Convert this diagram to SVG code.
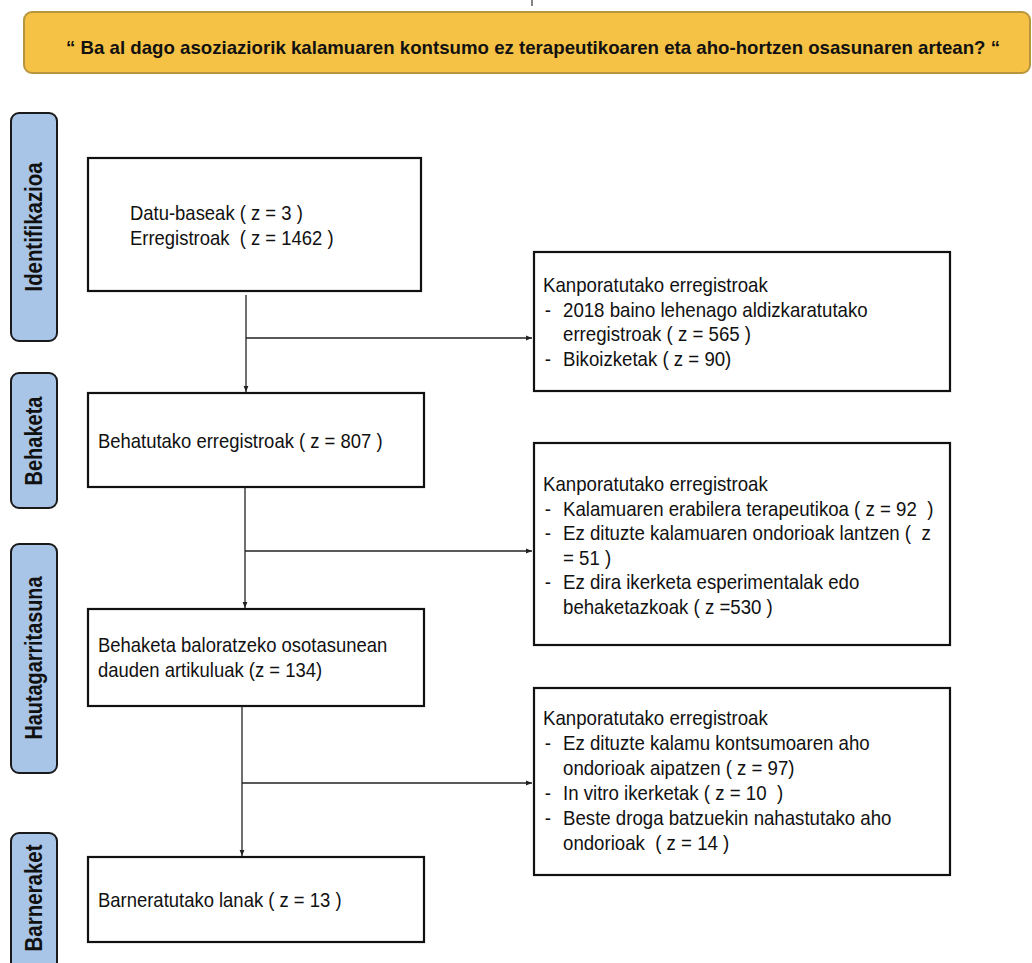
<svg xmlns="http://www.w3.org/2000/svg" width="1032" height="963" viewBox="0 0 1032 963">
<style>
.t{font-family:"Liberation Sans",Arial,sans-serif;font-size:20.5px;fill:#111}
.side rect{fill:#A8C4E6;stroke:#1a1a1a;stroke-width:2}
.side text{font-family:"Liberation Sans",Arial,sans-serif;font-size:23px;font-weight:bold;fill:#111;text-anchor:middle}
.box{fill:#fff;stroke:#111;stroke-width:2.2}
.con path{fill:none;stroke:#222;stroke-width:1.3}
</style>
<defs>
<marker id="arr" viewBox="0 0 10 10" refX="10" refY="5" markerWidth="7" markerHeight="6" orient="auto" markerUnits="userSpaceOnUse">
<path d="M0,1 L10,5 L0,9 z" fill="#222"/>
</marker>
</defs>
<rect width="1032" height="963" fill="#fff"/>
<line x1="532" y1="0" x2="532" y2="6" stroke="#333" stroke-width="1.2"/>

<g id="title">
<rect x="24" y="12" width="1006" height="61" rx="8" fill="#F5C245" stroke="#B8963E" stroke-width="2"/>
<text x="66" y="54" textLength="934" lengthAdjust="spacingAndGlyphs" style="font-family:'Liberation Sans',Arial,sans-serif;font-size:19px;font-weight:bold;fill:#111" xml:space="preserve">“ Ba al dago asoziaziorik kalamuaren kontsumo ez terapeutikoaren eta aho-hortzen osasunaren artean? “</text>
</g>

<g id="side-identifikazioa" class="side">
<rect x="11" y="113" width="46" height="228" rx="8"/>
<text transform="translate(42,227) rotate(-90)" textLength="129" lengthAdjust="spacingAndGlyphs">Identifikazioa</text>
</g>
<g id="side-behaketa" class="side">
<rect x="11" y="373" width="46" height="135" rx="8"/>
<text transform="translate(42,441) rotate(-90)" textLength="89" lengthAdjust="spacingAndGlyphs">Behaketa</text>
</g>
<g id="side-hautagarritasuna" class="side">
<rect x="11" y="544" width="46" height="229" rx="8"/>
<text transform="translate(42,658) rotate(-90)" textLength="163" lengthAdjust="spacingAndGlyphs">Hautagarritasuna</text>
</g>
<g id="side-barneraket" class="side">
<rect x="11" y="833" width="46" height="150" rx="8"/>
<text transform="translate(42,898) rotate(-90)" textLength="107" lengthAdjust="spacingAndGlyphs">Barneraket</text>
</g>

<g id="identification">
<rect class="box" x="88" y="158" width="333" height="133"/>
<g transform="translate(130,220) scale(0.9,1)">
<text class="t" x="0" y="0">Datu-baseak ( z = 3 )</text>
<text class="t" x="0" y="25" xml:space="preserve">Erregistroak  ( z = 1462 )</text>
</g>
</g>

<g id="excluded-1">
<rect class="box" x="534" y="252" width="416" height="139"/>
<g transform="translate(543,292) scale(0.91,1)">
<text class="t" x="0" y="0">Kanporatutako erregistroak</text>
<text class="t" x="2" y="24.6">-</text>
<text class="t" x="22" y="24.6">2018 baino lehenago aldizkaratutako</text>
<text class="t" x="22" y="49.2">erregistroak ( z = 565 )</text>
<text class="t" x="2" y="73.8">-</text>
<text class="t" x="22" y="73.8">Bikoizketak ( z = 90)</text>
</g>
</g>

<g id="screened">
<rect class="box" x="88" y="393" width="336" height="94"/>
<text class="t" transform="translate(98,448) scale(0.9,1)">Behatutako erregistroak ( z = 807 )</text>
</g>

<g id="excluded-2">
<rect class="box" x="534" y="443" width="416" height="202"/>
<g transform="translate(543,491) scale(0.91,1)">
<text class="t" x="0" y="0">Kanporatutako erregistroak</text>
<text class="t" x="2" y="24.6">-</text>
<text class="t" x="22" y="24.6" xml:space="preserve">Kalamuaren erabilera terapeutikoa ( z = 92  )</text>
<text class="t" x="2" y="49.2">-</text>
<text class="t" x="22" y="49.2" xml:space="preserve">Ez dituzte kalamuaren ondorioak lantzen (  z</text>
<text class="t" x="22" y="73.8">= 51 )</text>
<text class="t" x="2" y="98.4">-</text>
<text class="t" x="22" y="98.4">Ez dira ikerketa esperimentalak edo</text>
<text class="t" x="22" y="123">behaketazkoak ( z =530 )</text>
</g>
</g>

<g id="eligibility">
<rect class="box" x="88" y="609" width="336" height="97"/>
<g transform="translate(98,652) scale(0.9,1)">
<text class="t" x="0" y="0">Behaketa baloratzeko osotasunean</text>
<text class="t" x="0" y="25">dauden artikuluak (z = 134)</text>
</g>
</g>

<g id="excluded-3">
<rect class="box" x="534" y="688" width="416" height="187"/>
<g transform="translate(543,725) scale(0.91,1)">
<text class="t" x="0" y="0">Kanporatutako erregistroak</text>
<text class="t" x="2" y="25">-</text>
<text class="t" x="22" y="25">Ez dituzte kalamu kontsumoaren aho</text>
<text class="t" x="22" y="50">ondorioak aipatzen ( z = 97)</text>
<text class="t" x="2" y="75">-</text>
<text class="t" x="22" y="75" xml:space="preserve">In vitro ikerketak ( z = 10  )</text>
<text class="t" x="2" y="100">-</text>
<text class="t" x="22" y="100">Beste droga batzuekin nahastutako aho</text>
<text class="t" x="22" y="125" xml:space="preserve">ondorioak  ( z = 14 )</text>
</g>
</g>

<g id="included">
<rect class="box" x="88" y="857" width="336" height="85"/>
<text class="t" transform="translate(98,907) scale(0.9,1)">Barneratutako lanak ( z = 13 )</text>
</g>

<g id="connectors" class="con">
<path d="M246,295 V392" marker-end="url(#arr)"/>
<path d="M246,338 H532" marker-end="url(#arr)"/>
<path d="M245,487 V608" marker-end="url(#arr)"/>
<path d="M245,551 H532" marker-end="url(#arr)"/>
<path d="M242,706 V856" marker-end="url(#arr)"/>
<path d="M242,783 H532" marker-end="url(#arr)"/>
</g>
</svg>
